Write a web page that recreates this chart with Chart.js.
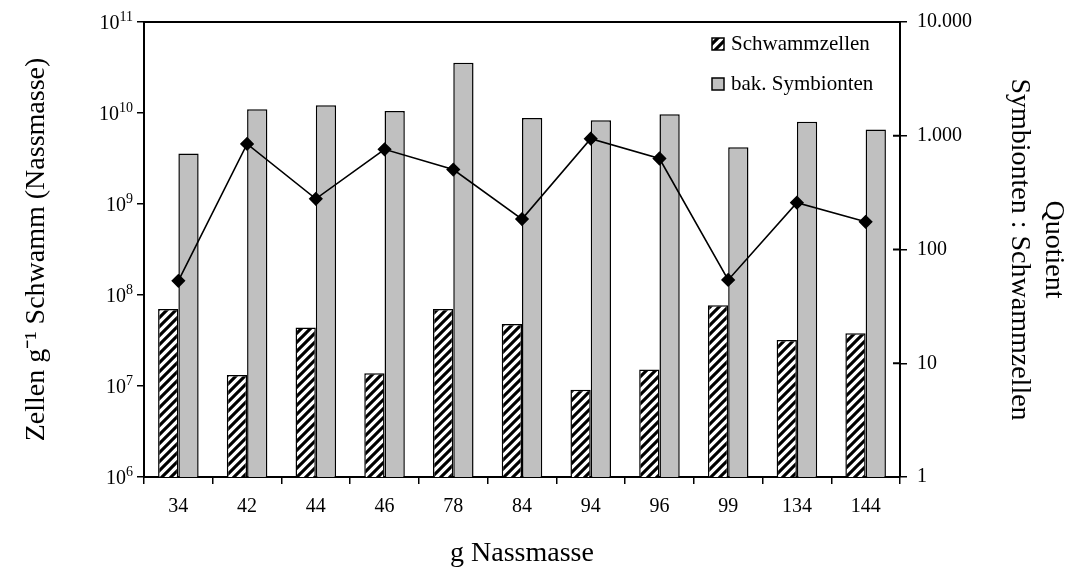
<!DOCTYPE html>
<html>
<head>
<meta charset="utf-8">
<script src="https://cdn.jsdelivr.net/npm/chart.js@4/dist/chart.umd.min.js"></script>
<style>
  html, body { margin: 0; padding: 0; background: #fff; }
  #wrap { width: 1081px; height: 578px; position: relative; }
</style>
</head>
<body>
<div id="wrap"><canvas id="chart"></canvas></div>
<script>
"use strict";

/* ---- data ---- */
const categories     = ["34", "42", "44", "46", "78", "84", "94", "96", "99", "134", "144"];
const schwammzellen  = [7.0e7, 1.32e7, 4.4e7, 1.38e7, 7.0e7, 4.8e7, 9.1e6, 1.52e7, 7.7e7, 3.2e7, 3.8e7];
const symbionten     = [3.6e9, 1.1e10, 1.22e10, 1.05e10, 3.56e10, 8.8e9, 8.3e9, 9.7e9, 4.2e9, 8.0e9, 6.6e9];
const quotient       = [53, 848, 279, 760, 504, 185, 942, 631, 54, 258, 175];
const leftTicks      = [1e6, 1e7, 1e8, 1e9, 1e10, 1e11];
const rightTicks     = [1, 10, 100, 1000, 10000];

const SERIF = "'Liberation Serif', 'Times New Roman', serif";

/* hatch pattern "////" */
function makeHatch() {
  const c = document.createElement("canvas");
  const s = 9;
  c.width = s; c.height = s;
  const g = c.getContext("2d");
  g.fillStyle = "#fff";
  g.fillRect(0, 0, s, s);
  g.strokeStyle = "#000";
  g.lineWidth = 3.1;
  g.beginPath();
  g.moveTo(0, s); g.lineTo(s, 0);
  g.moveTo(-s / 2, s / 2); g.lineTo(s / 2, -s / 2);
  g.moveTo(s / 2, s * 1.5); g.lineTo(s * 1.5, s / 2);
  g.stroke();
  return g.createPattern(c, "repeat");
}
const hatch = makeHatch();

/* ---- extras: top frame, inner ticks on right axis, 10^n labels, legend ---- */
const extras = {
  id: "extras",
  afterDraw(chart) {
    const { ctx, chartArea: a } = chart;
    ctx.save();
    ctx.strokeStyle = "#000";
    ctx.lineWidth = 2;
    ctx.beginPath();
    ctx.moveTo(a.left, a.top);
    ctx.lineTo(a.right, a.top);
    const y1 = chart.scales.y1;
    y1.ticks.forEach(t => {
      const py = y1.getPixelForValue(t.value);
      ctx.moveTo(a.right - 7, py);
      ctx.lineTo(a.right, py);
    });
    ctx.stroke();

    // left axis labels as 10 with superscript exponent
    const y = chart.scales.y;
    const xr = a.left - 11;
    ctx.fillStyle = "#000";
    ctx.textAlign = "right";
    y.ticks.forEach(t => {
      const py = y.getPixelForValue(t.value);
      const exp = String(Math.round(Math.log10(t.value)));
      ctx.font = "14px " + SERIF;
      const ew = ctx.measureText(exp).width;
      ctx.textBaseline = "alphabetic";
      ctx.fillText(exp, xr, py - 1);
      ctx.font = "20px " + SERIF;
      ctx.fillText("10", xr - ew, py + 7);
    });

    // legend (bar datasets only)
    const items = chart.data.datasets.filter(d => d.type !== "line");
    ctx.font = "21px " + SERIF;
    ctx.textBaseline = "middle";
    ctx.textAlign = "left";
    items.forEach((d, i) => {
      const x = 712, yy = 38 + i * 40;
      ctx.fillStyle = d.backgroundColor;
      ctx.fillRect(x, yy, 12, 12);
      ctx.lineWidth = 1.5;
      ctx.strokeStyle = "#000";
      ctx.strokeRect(x, yy, 12, 12);
      ctx.fillStyle = "#000";
      ctx.fillText(d.label, x + 19, yy + 6);
    });
    ctx.restore();
  },
};

new Chart(document.getElementById("chart"), {
  data: {
    labels: categories,
    datasets: [
      {
        type: "line",
        label: "Quotient",
        data: quotient,
        yAxisID: "y1",
        borderColor: "#000",
        borderWidth: 1.6,
        pointStyle: "rectRot",
        pointRadius: 6,
        pointBackgroundColor: "#000",
        pointBorderColor: "#000",
        order: 0,
      },
      {
        type: "bar",
        label: "Schwammzellen",
        data: schwammzellen,
        yAxisID: "y",
        backgroundColor: hatch,
        borderColor: "#000",
        borderWidth: 1.5,
        order: 1,
      },
      {
        type: "bar",
        label: "bak. Symbionten",
        data: symbionten,
        yAxisID: "y",
        backgroundColor: "#C0C0C0",
        borderColor: "#000",
        borderWidth: 1.5,
        order: 2,
      },
    ],
  },
  options: {
    responsive: true,
    maintainAspectRatio: false,
    animation: false,
    layout: { padding: { top: 18 } },
    datasets: { bar: { categoryPercentage: 0.59, barPercentage: 1 } },
    plugins: { legend: { display: false }, tooltip: { enabled: false } },
    scales: {
      x: {
        afterFit: s => { s.height = 101; },
        grid: { offset: true, drawOnChartArea: false, color: "#000", tickLength: 7, lineWidth: 1.5 },
        border: { color: "#000", width: 2 },
        ticks: { color: "#000", font: { family: SERIF, size: 20 }, padding: 11 },
        title: { display: true, text: "g Nassmasse", color: "#000", font: { family: SERIF, size: 28 }, padding: { bottom: 8 } },
      },
      y: {
        type: "logarithmic",
        position: "left",
        min: 1e6,
        max: 1e11,
        afterFit: s => { s.width = 144; },
        afterBuildTicks: s => { s.ticks = leftTicks.map(v => ({ value: v })); },
        grid: { drawOnChartArea: false, color: "#000", tickLength: 7, lineWidth: 1.5 },
        border: { color: "#000", width: 2 },
        ticks: { display: false },
        title: { display: true, text: "Zellen g⁻¹ Schwamm (Nassmasse)", color: "#000", font: { family: SERIF, size: 28 }, padding: { top: 20 } },
      },
      y1: {
        type: "logarithmic",
        position: "right",
        min: 1,
        max: 10000,
        afterFit: s => { s.width = 181; },
        afterBuildTicks: s => { s.ticks = rightTicks.map(v => ({ value: v })); },
        grid: { drawOnChartArea: false, color: "#000", tickLength: 7, lineWidth: 1.5 },
        border: { color: "#000", width: 2 },
        ticks: {
          color: "#000",
          font: { family: SERIF, size: 20 },
          padding: 10,
          callback: v => String(v).replace(/\B(?=(\d{3})+(?!\d))/g, "."),
        },
        title: { display: true, text: ["Quotient", "Symbionten : Schwammzellen"], color: "#000", font: { family: SERIF, size: 28 }, padding: { top: 11 } },
      },
    },
  },
  plugins: [extras],
});
</script>
</body>
</html>
